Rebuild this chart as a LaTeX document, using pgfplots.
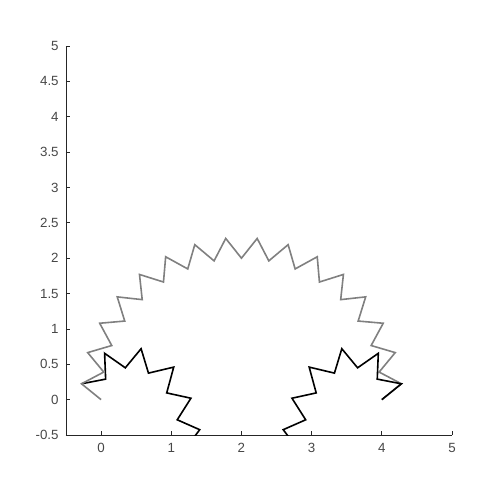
\documentclass[border=0pt]{standalone}
\usepackage{pgfplots}
\pgfplotsset{compat=1.18}
\usepackage{fontspec}
\setmainfont{Liberation Sans}
\definecolor{axgray}{RGB}{38,38,38}
\definecolor{linegray}{RGB}{128,128,128}
\begin{document}
\begin{tikzpicture}
\path[use as bounding box] (-49.5pt,-48.75pt) rectangle (325.5pt,326.25pt);
\begin{axis}[
  at={(0,0)}, anchor=south west,
  scale only axis,
  width=289.5pt, height=291.75pt,
  xmin=-0.5, xmax=5, ymin=-0.5, ymax=5,
  axis lines*=left,
  axis line style={axgray, line width=0.6pt},
  tick align=inside,
  major tick length=3pt,
  tick style={axgray, line width=0.6pt},
  xtick={0,1,2,3,4,5},
  xticklabels={0,1,2,3,4,5},
  ytick={-0.5,0,0.5,1,1.5,2,2.5,3,3.5,4,4.5,5},
  yticklabels={-0.5,0,0.5,1,1.5,2,2.5,3,3.5,4,4.5,5},
  ticklabel style={font=\fontsize{10pt}{12pt}\selectfont, text=axgray!85},
  xticklabel style={yshift=-2.5pt},
  yticklabel style={xshift=-2pt},
  clip=true,
]
% black curve, left part
\addplot[black, line width=1.2pt, line join=miter] coordinates {
(1.31,-0.55) (1.405,-0.425) (1.085,-0.285) (1.28,0.02) (0.935,0.095)
(1.035,0.46) (0.675,0.375) (0.57,0.72) (0.345,0.45) (0.05,0.655)
(0.065,0.29) (-0.279,0.224)
};
% gray curve
\addplot[linegray, line width=1.2pt, line join=miter] coordinates {
(0,0) (-0.279,0.224) (0.038,0.390) (-0.191,0.665) (0.152,0.765)
(-0.020,1.080) (0.337,1.111) (0.230,1.453) (0.586,1.414) (0.547,1.770)
(0.889,1.663) (0.920,2.020) (1.235,1.848) (1.335,2.191) (1.610,1.962)
(1.776,2.279) (2,2) (2.224,2.279) (2.390,1.962) (2.665,2.191)
(2.765,1.848) (3.080,2.020) (3.111,1.663) (3.453,1.770) (3.414,1.414)
(3.770,1.453) (3.663,1.111) (4.020,1.080) (3.848,0.765) (4.191,0.665)
(3.962,0.390) (4.279,0.224) (4,0)
};
% black curve, right part
\addplot[black, line width=1.2pt, line join=miter] coordinates {
(2.69,-0.55) (2.595,-0.425) (2.915,-0.285) (2.72,0.02) (3.065,0.095)
(2.965,0.46) (3.325,0.375) (3.43,0.72) (3.655,0.45) (3.95,0.655)
(3.935,0.29) (4.279,0.224) (4,0)
};
\end{axis}
\end{tikzpicture}
\end{document}
